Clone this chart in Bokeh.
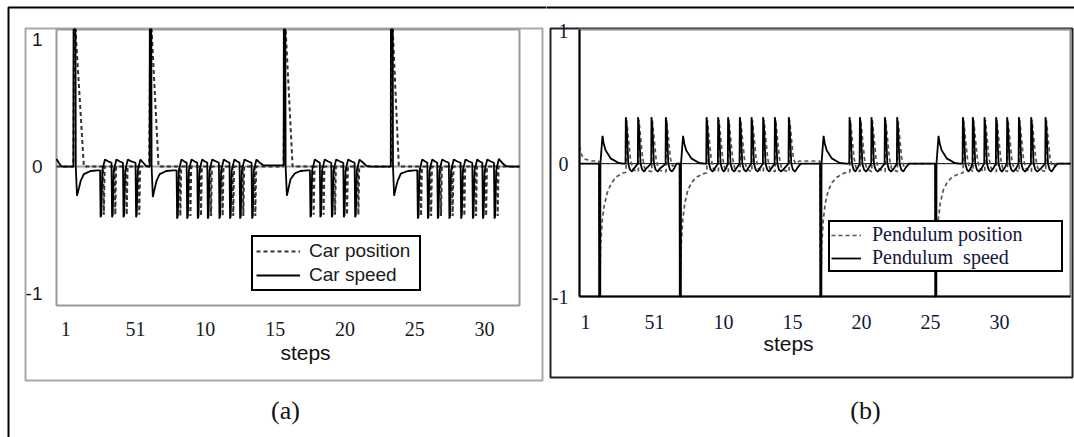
from bokeh.plotting import figure
from bokeh.layouts import row
from bokeh.models import Range1d, FixedTicker, Legend, LegendItem, BoxAnnotation, Label
from bokeh.embed import file_html
from bokeh.resources import INLINE

# ---------------- data (steps, value) ----------------
# (a) car speed (solid)
car_speed = [
    (-0.66, 0.06), (-0.5, 0.03), (-0.3, 0.0), (0.5, 0.0),
    (0.55, 0.0), (0.56, 1.079), (0.70, 1.079), (0.72, 0.0), (0.81, -0.23), (0.95, -0.17), (1.08, -0.11), (1.30, -0.06), (1.78, -0.035), (2.28, -0.03),
    (2.46, -0.03), (2.50, -0.40), (2.55, -0.38), (2.62, -0.03), (2.81, 0.055), (3.06, 0.04),
    (3.28, 0.03), (3.32, -0.40), (3.37, -0.38), (3.44, -0.03), (3.63, 0.055), (3.88, 0.04),
    (4.10, 0.03), (4.14, -0.40), (4.19, -0.38), (4.26, -0.03), (4.45, 0.055), (4.70, 0.04),
    (5.00, 0.03), (5.04, -0.40), (5.09, -0.38), (5.16, -0.03), (5.35, 0.055), (5.55, 0.03), (5.75, 0.005), (5.98, 0.0),
    (6.01, 0.0), (6.02, 1.079), (6.13, 1.079), (6.15, 0.0), (6.24, -0.24), (6.38, -0.17), (6.51, -0.11), (6.73, -0.06), (7.2, -0.035), (7.7, -0.03),
    (7.94, -0.03), (7.98, -0.41), (8.03, -0.39), (8.10, -0.03), (8.29, 0.055), (8.50, 0.04),
    (8.66, 0.03), (8.70, -0.41), (8.75, -0.39), (8.82, -0.03), (9.01, 0.055), (9.24, 0.04),
    (9.42, 0.03), (9.46, -0.41), (9.51, -0.39), (9.58, -0.03), (9.77, 0.055), (9.98, 0.04),
    (10.14, 0.03), (10.18, -0.41), (10.23, -0.39), (10.30, -0.03), (10.49, 0.055), (10.78, 0.04),
    (10.97, 0.03), (11.01, -0.41), (11.06, -0.39), (11.13, -0.03), (11.32, 0.055), (11.55, 0.04),
    (11.73, 0.03), (11.77, -0.41), (11.82, -0.39), (11.89, -0.03), (12.08, 0.055), (12.29, 0.04),
    (12.45, 0.03), (12.49, -0.41), (12.54, -0.39), (12.61, -0.03), (12.80, 0.055), (13.10, 0.04),
    (13.31, 0.03), (13.35, -0.41), (13.40, -0.39), (13.47, -0.03), (13.66, 0.055), (13.90, 0.03), (14.15, 0.01), (14.45, 0.01), (15.60, 0.01),
    (15.61, 0.01), (15.62, 1.079), (15.73, 1.079), (15.75, 0.0), (15.84, -0.23), (15.98, -0.16), (16.10, -0.10), (16.4, -0.055), (16.8, -0.035), (17.3, -0.03),
    (17.49, -0.03), (17.53, -0.40), (17.58, -0.38), (17.65, -0.03), (17.84, 0.055), (18.05, 0.04),
    (18.20, 0.03), (18.24, -0.40), (18.29, -0.38), (18.36, -0.03), (18.55, 0.055), (18.80, 0.04),
    (19.02, 0.03), (19.06, -0.40), (19.11, -0.38), (19.18, -0.03), (19.37, 0.055), (19.65, 0.04),
    (19.88, 0.03), (19.92, -0.40), (19.97, -0.38), (20.04, -0.03), (20.23, 0.055), (20.48, 0.04),
    (20.69, 0.03), (20.73, -0.40), (20.78, -0.38), (20.85, -0.03), (21.04, 0.055), (21.30, 0.03), (21.55, 0.005), (21.9, 0.0),
    (23.28, 0.0), (23.29, 1.079), (23.42, 1.079), (23.44, 0.0), (23.52, -0.23), (23.66, -0.16), (23.78, -0.11), (24.0, -0.055), (24.5, -0.035), (25.0, -0.03),
    (25.18, -0.03), (25.22, -0.41), (25.27, -0.39), (25.34, -0.03), (25.53, 0.055), (25.75, 0.04),
    (25.90, 0.03), (25.94, -0.41), (25.99, -0.39), (26.06, -0.03), (26.25, 0.055), (26.46, 0.04),
    (26.61, 0.03), (26.65, -0.41), (26.70, -0.39), (26.77, -0.03), (26.96, 0.055), (27.22, 0.04),
    (27.44, 0.03), (27.48, -0.41), (27.53, -0.39), (27.60, -0.03), (27.79, 0.055), (28.05, 0.04),
    (28.28, 0.03), (28.32, -0.41), (28.37, -0.39), (28.44, -0.03), (28.63, 0.055), (28.90, 0.04),
    (29.12, 0.03), (29.16, -0.41), (29.21, -0.39), (29.28, -0.03), (29.47, 0.055), (29.65, 0.04),
    (29.84, 0.03), (29.88, -0.41), (29.93, -0.39), (30.00, -0.03), (30.19, 0.055), (30.45, 0.04),
    (30.67, 0.03), (30.71, -0.41), (30.76, -0.39), (30.83, -0.03), (31.02, 0.06), (31.25, 0.03), (31.5, 0.005), (31.8, 0.0), (32.5, 0.0),
]

# (a) car position (dashed)
car_position = [
    (-0.66, 0.0), (0.55, 0.0), (0.60, 1.079), (0.70, 1.079), (1.30, 0.0),
    (2.68, 0.0), (2.73, -0.38), (2.79, 0.0), (3.50, 0.0), (3.55, -0.38), (3.61, 0.0),
    (4.32, 0.0), (4.37, -0.38), (4.43, 0.0), (5.22, 0.0), (5.27, -0.38), (5.33, 0.0),
    (5.98, 0.0), (6.05, 1.079), (6.15, 1.079), (6.65, 0.0),
    (8.16, 0.0), (8.21, -0.39), (8.27, 0.0), (8.88, 0.0), (8.93, -0.39), (8.99, 0.0),
    (9.64, 0.0), (9.69, -0.39), (9.75, 0.0), (10.36, 0.0), (10.41, -0.39), (10.47, 0.0),
    (11.19, 0.0), (11.24, -0.39), (11.30, 0.0), (11.95, 0.0), (12.00, -0.39), (12.06, 0.0),
    (12.67, 0.0), (12.72, -0.39), (12.78, 0.0), (13.53, 0.0), (13.58, -0.39), (13.64, 0.0),
    (15.60, 0.0), (15.68, 1.079), (15.75, 1.079), (16.25, 0.0),
    (17.71, 0.0), (17.76, -0.38), (17.82, 0.0), (18.42, 0.0), (18.47, -0.38), (18.53, 0.0),
    (19.24, 0.0), (19.29, -0.38), (19.35, 0.0), (20.10, 0.0), (20.15, -0.38), (20.21, 0.0),
    (20.91, 0.0), (20.96, -0.38), (21.02, 0.0),
    (23.30, 0.0), (23.36, 1.079), (23.42, 1.079), (23.86, 0.0),
    (25.40, 0.0), (25.45, -0.39), (25.51, 0.0), (26.12, 0.0), (26.17, -0.39), (26.23, 0.0),
    (26.83, 0.0), (26.88, -0.39), (26.94, 0.0), (27.66, 0.0), (27.71, -0.39), (27.77, 0.0),
    (28.50, 0.0), (28.55, -0.39), (28.61, 0.0), (29.34, 0.0), (29.39, -0.39), (29.45, 0.0),
    (30.06, 0.0), (30.11, -0.39), (30.17, 0.0), (30.89, 0.0), (30.94, -0.39), (31.00, 0.0),
    (32.5, 0.0),
]

# (b) pendulum speed (solid)
pendulum_speed = [
    (-0.435, 0.0), (0.95, 0.0),
    (0.98, 0.0), (0.99, -1.0), (1.07, -1.0), (1.08, 0.0), (1.23, 0.21), (1.32, 0.15), (1.46, 0.10), (1.82, 0.04), (2.4, 0.005), (2.75, 0.0),
    (2.90, 0.0), (2.92, 0.35), (2.98, 0.28), (3.10, 0.0), (3.22, -0.045), (3.37, -0.06), (3.52, -0.035),
    (3.79, 0.0), (3.81, 0.35), (3.87, 0.28), (3.99, 0.0), (4.11, -0.045), (4.26, -0.06), (4.41, -0.035),
    (4.76, 0.0), (4.78, 0.35), (4.84, 0.28), (4.96, 0.0), (5.08, -0.045), (5.23, -0.06), (5.40, -0.035), (5.6, -0.02),
    (5.80, 0.0), (5.82, 0.35), (5.88, 0.28), (6.00, 0.0), (6.12, -0.045), (6.27, -0.06), (6.45, -0.03), (6.6, 0.0),
    (6.82, 0.0), (6.83, -1.0), (6.91, -1.0), (6.92, 0.0), (7.07, 0.21), (7.16, 0.15), (7.30, 0.10), (7.66, 0.04), (8.24, 0.005), (8.6, 0.0),
    (8.75, 0.0), (8.77, 0.35), (8.83, 0.28), (8.95, 0.0), (9.07, -0.045), (9.22, -0.06), (9.37, -0.035),
    (9.59, 0.0), (9.61, 0.35), (9.67, 0.28), (9.79, 0.0), (9.91, -0.045), (10.03, -0.06), (10.18, -0.035),
    (10.31, 0.0), (10.33, 0.35), (10.39, 0.28), (10.51, 0.0), (10.63, -0.045), (10.78, -0.06), (10.93, -0.035),
    (11.16, 0.0), (11.18, 0.35), (11.24, 0.28), (11.36, 0.0), (11.48, -0.045), (11.63, -0.06), (11.78, -0.035),
    (12.01, 0.0), (12.03, 0.35), (12.09, 0.28), (12.21, 0.0), (12.33, -0.045), (12.48, -0.06), (12.63, -0.035),
    (12.85, 0.0), (12.87, 0.35), (12.93, 0.28), (13.05, 0.0), (13.17, -0.045), (13.32, -0.06), (13.47, -0.035),
    (13.70, 0.0), (13.72, 0.35), (13.78, 0.28), (13.90, 0.0), (14.02, -0.045), (14.17, -0.06), (14.40, -0.035),
    (14.71, 0.0), (14.73, 0.35), (14.79, 0.28), (14.91, 0.0), (15.03, -0.045), (15.18, -0.06), (15.36, -0.03), (15.6, 0.0),
    (17.00, 0.0), (17.01, -1.0), (17.09, -1.0), (17.10, 0.0), (17.25, 0.21), (17.34, 0.15), (17.48, 0.10), (17.84, 0.04), (18.42, 0.005), (18.9, 0.0),
    (19.11, 0.0), (19.13, 0.35), (19.19, 0.28), (19.31, 0.0), (19.43, -0.045), (19.55, -0.06), (19.70, -0.035),
    (19.86, 0.0), (19.88, 0.35), (19.94, 0.28), (20.06, 0.0), (20.18, -0.045), (20.33, -0.06), (20.50, -0.035),
    (20.70, 0.0), (20.72, 0.35), (20.78, 0.28), (20.90, 0.0), (21.02, -0.045), (21.17, -0.06), (21.40, -0.035),
    (21.67, 0.0), (21.69, 0.35), (21.75, 0.28), (21.87, 0.0), (21.99, -0.045), (22.14, -0.06), (22.35, -0.035),
    (22.56, 0.0), (22.58, 0.35), (22.64, 0.28), (22.76, 0.0), (22.88, -0.045), (23.03, -0.06), (23.2, -0.03), (23.45, 0.0),
    (25.33, 0.0), (25.34, -1.0), (25.42, -1.0), (25.43, 0.0), (25.58, 0.21), (25.67, 0.15), (25.81, 0.10), (26.17, 0.04), (26.75, 0.005), (27.1, 0.0),
    (27.32, 0.0), (27.34, 0.35), (27.40, 0.28), (27.52, 0.0), (27.64, -0.045), (27.76, -0.06), (27.90, -0.035),
    (28.04, 0.0), (28.06, 0.35), (28.12, 0.28), (28.24, 0.0), (28.36, -0.045), (28.51, -0.06), (28.70, -0.035),
    (28.89, 0.0), (28.91, 0.35), (28.97, 0.28), (29.09, 0.0), (29.21, -0.045), (29.36, -0.06), (29.55, -0.035),
    (29.73, 0.0), (29.75, 0.35), (29.81, 0.28), (29.93, 0.0), (30.05, -0.045), (30.18, -0.06), (30.35, -0.035),
    (30.53, 0.0), (30.55, 0.35), (30.61, 0.28), (30.73, 0.0), (30.85, -0.045), (31.00, -0.06), (31.20, -0.035),
    (31.38, 0.0), (31.40, 0.35), (31.46, 0.28), (31.58, 0.0), (31.70, -0.045), (31.85, -0.06), (32.05, -0.035),
    (32.27, 0.0), (32.29, 0.35), (32.35, 0.28), (32.47, 0.0), (32.59, -0.045), (32.74, -0.06), (33.00, -0.035),
    (33.31, 0.0), (33.33, 0.35), (33.39, 0.28), (33.51, 0.0), (33.63, -0.045), (33.78, -0.06), (33.95, -0.03), (34.2, 0.0), (35.14, 0.0),
]

# (b) pendulum position (dashed)
pendulum_position = [
    (-0.435, 0.13), (-0.3, 0.07), (-0.1, 0.035), (0.5, 0.02), (0.97, 0.02),
    (1.02, -1.0), (1.10, -0.6), (1.21, -0.43), (1.35, -0.32), (1.57, -0.22), (1.86, -0.15), (2.22, -0.10), (2.72, -0.07), (2.92, -0.065),
    (2.94, -0.06), (2.98, 0.33), (3.10, 0.2), (3.25, 0.04), (3.40, -0.035), (3.55, -0.05),
    (3.83, -0.06), (3.87, 0.33), (3.99, 0.2), (4.14, 0.04), (4.29, -0.035), (4.44, -0.05),
    (4.80, -0.06), (4.84, 0.33), (4.96, 0.2), (5.11, 0.04), (5.26, -0.035), (5.41, -0.05),
    (5.84, -0.06), (5.88, 0.33), (6.00, 0.2), (6.15, 0.04), (6.30, -0.02), (6.5, 0.0), (6.82, 0.0),
    (6.86, -1.0), (6.94, -0.6), (7.05, -0.42), (7.19, -0.30), (7.41, -0.2), (7.70, -0.14), (8.06, -0.10), (8.56, -0.075), (8.77, -0.07),
    (8.79, -0.06), (8.83, 0.33), (8.95, 0.2), (9.10, 0.04), (9.25, -0.035), (9.40, -0.05),
    (9.63, -0.06), (9.67, 0.33), (9.79, 0.2), (9.94, 0.04), (10.09, -0.035), (10.24, -0.05),
    (10.35, -0.06), (10.39, 0.33), (10.51, 0.2), (10.66, 0.04), (10.81, -0.035), (10.96, -0.05),
    (11.20, -0.06), (11.24, 0.33), (11.36, 0.2), (11.51, 0.04), (11.66, -0.035), (11.81, -0.05),
    (12.05, -0.06), (12.09, 0.33), (12.21, 0.2), (12.36, 0.04), (12.51, -0.035), (12.66, -0.05),
    (12.89, -0.06), (12.93, 0.33), (13.05, 0.2), (13.20, 0.04), (13.35, -0.035), (13.50, -0.05),
    (13.74, -0.06), (13.78, 0.33), (13.90, 0.2), (14.05, 0.04), (14.20, -0.035), (14.40, -0.05),
    (14.75, -0.06), (14.79, 0.33), (14.91, 0.2), (15.06, 0.04), (15.21, 0.0), (15.5, 0.02), (16.98, 0.02),
    (17.04, -1.0), (17.12, -0.6), (17.23, -0.42), (17.37, -0.30), (17.59, -0.2), (17.88, -0.14), (18.24, -0.10), (18.74, -0.07), (19.13, -0.065),
    (19.15, -0.06), (19.19, 0.33), (19.31, 0.2), (19.46, 0.04), (19.61, -0.035), (19.76, -0.05),
    (19.90, -0.06), (19.94, 0.33), (20.06, 0.2), (20.21, 0.04), (20.36, -0.035), (20.55, -0.05),
    (20.74, -0.06), (20.78, 0.33), (20.90, 0.2), (21.05, 0.04), (21.20, -0.035), (21.45, -0.05),
    (21.71, -0.06), (21.75, 0.33), (21.87, 0.2), (22.02, 0.04), (22.17, -0.035), (22.40, -0.05),
    (22.60, -0.06), (22.64, 0.33), (22.76, 0.2), (22.91, 0.04), (23.06, -0.02), (23.3, 0.0), (25.33, 0.0),
    (25.37, -1.0), (25.45, -0.6), (25.56, -0.42), (25.70, -0.30), (25.92, -0.2), (26.21, -0.14), (26.57, -0.10), (27.07, -0.075), (27.34, -0.07),
    (27.36, -0.06), (27.40, 0.33), (27.52, 0.2), (27.67, 0.04), (27.82, -0.035), (27.97, -0.05),
    (28.08, -0.06), (28.12, 0.33), (28.24, 0.2), (28.39, 0.04), (28.54, -0.035), (28.74, -0.05),
    (28.93, -0.06), (28.97, 0.33), (29.09, 0.2), (29.24, 0.04), (29.39, -0.035), (29.58, -0.05),
    (29.77, -0.06), (29.81, 0.33), (29.93, 0.2), (30.08, 0.04), (30.23, -0.035), (30.38, -0.05),
    (30.57, -0.06), (30.61, 0.33), (30.73, 0.2), (30.88, 0.04), (31.03, -0.035), (31.23, -0.05),
    (31.42, -0.06), (31.46, 0.33), (31.58, 0.2), (31.73, 0.04), (31.88, -0.035), (32.08, -0.05),
    (32.31, -0.06), (32.35, 0.33), (32.47, 0.2), (32.62, 0.04), (32.77, -0.035), (33.05, -0.05),
    (33.35, -0.06), (33.39, 0.33), (33.51, 0.2), (33.66, 0.04), (33.81, -0.02), (34.1, 0.0), (35.14, 0.0),
]

x_tick_steps = [0, 5, 10, 15, 20, 25, 30]
x_tick_labels = ["1", "51", "10", "15", "20", "25", "30"]
y_tick_values = [-1, 0, 1]
y_tick_labels = ["-1", "0", "1"]

# axis limits of the two plots (steps, value)
A_X = (-0.66, 32.5)
A_Y = (-1.094, 1.079)
B_X = (-0.435, 35.14)
B_Y = (-1.0, 1.01)

H = 437


def xy(pairs):
    return [p[0] for p in pairs], [p[1] for p in pairs]


class Panel:
    """maps page pixels of this figure onto its data space (for layout decorations)"""

    def __init__(self, width, box, xlim, ylim):
        self.left, self.right, self.top, self.bottom = box
        self.x0, self.x1 = xlim
        self.y0, self.y1 = ylim
        self.kx = (self.x1 - self.x0) / (self.right - self.left)
        self.ky = (self.y1 - self.y0) / (self.bottom - self.top)
        self.width = width

    def x(self, px):
        return self.x0 + (px - self.left) * self.kx

    def y(self, py):
        return self.y1 - (py - self.top) * self.ky

    def fig(self):
        p = figure(width=self.width, height=H, output_backend="svg", toolbar_location=None, title=None,
                   x_range=Range1d(self.x(0), self.x(self.width)), y_range=Range1d(self.y(H), self.y(0)),
                   min_border=0, min_border_left=0, min_border_right=0, min_border_top=0, min_border_bottom=0,
                   background_fill_color="white", border_fill_color="white", outline_line_color=None)
        p.grid.visible = False
        return p

    def box(self, p, l, r, t, b, color, width=2):
        p.add_layout(BoxAnnotation(left=self.x(l), right=self.x(r), top=self.y(t), bottom=self.y(b),
                                   fill_color=None, fill_alpha=0, line_color=color, line_alpha=1,
                                   line_width=width, level="underlay"))

    def text(self, p, px, py, s, font, size):
        p.add_layout(Label(x=self.x(px), y=self.y(py), text=s, text_font=font, text_font_size=size,
                           text_color="#111111", text_align="center", text_baseline="middle"))


def style_axes(p, xfix, yfix, xfont, yfont, size_x, size_y, xstand, ystand, color):
    p.xaxis.ticker = FixedTicker(ticks=x_tick_steps)
    p.xaxis.major_label_overrides = {t: l for t, l in zip(x_tick_steps, x_tick_labels)}
    p.yaxis.ticker = FixedTicker(ticks=y_tick_values)
    p.yaxis.major_label_overrides = {t: l for t, l in zip(y_tick_values, y_tick_labels)}
    p.xaxis.fixed_location = xfix
    p.yaxis.fixed_location = yfix
    for ax, f, s, st in ((p.xaxis, xfont, size_x, xstand), (p.yaxis, yfont, size_y, ystand)):
        ax.major_tick_line_color = None
        ax.minor_tick_line_color = None
        ax.major_label_text_font = f
        ax.major_label_text_font_size = s
        ax.major_label_text_color = color
        ax.major_label_standoff = st


# ---------------- panel (a) ----------------
A = Panel(546, (56, 519, 29, 305), A_X, A_Y)
pa = A.fig()
style_axes(pa, A_Y[0], A_X[0], "Liberation Serif", "Liberation Sans", "20px", "19px", 10, 8, "#1a1a1a")
pa.xaxis.axis_line_color = None
pa.yaxis.axis_line_color = None

A.box(pa, 8, 900, 7, 900, "black")            # page frame (top / left)
A.box(pa, 25, 542, 28, 380, "#a8a8a8")        # panel box
A.box(pa, 56, 519, 29, 305, "#9a9a9a")        # plot frame
pa.segment(x0=[A_X[0]], y0=[0], x1=[A_X[1]], y1=[0], line_color="#a0a0a0", line_width=2)

cx, cy = xy(car_position)
r_cpos = pa.line(cx, cy, line_color="#333333", line_width=2, line_dash="4 3")
sx, sy = xy(car_speed)
r_cspd = pa.line(sx, sy, line_color="black", line_width=1.8)

pa.add_layout(Legend(items=[LegendItem(label="Car position", renderers=[r_cpos]),
                            LegendItem(label="Car speed", renderers=[r_cspd])],
                     location=(251, H - 291), margin=0, padding=3, spacing=2,
                     glyph_width=44, glyph_height=20, label_height=20, label_standoff=9, label_width=107,
                     label_text_font="Liberation Sans", label_text_font_size="19px",
                     label_text_color="#1a1a1a",
                     border_line_color="black", border_line_width=2, border_line_alpha=1,
                     background_fill_color="white", background_fill_alpha=1))

A.text(pa, 305, 352, "steps", "Liberation Sans", "21px")
A.text(pa, 285, 410, "(a)", "Liberation Serif", "26px")

# ---------------- panel (b) ----------------
B = Panel(528, (33, 524, 29, 296), B_X, B_Y)
pb = B.fig()
style_axes(pb, B_Y[0], B_X[0], "Liberation Serif", "Liberation Serif", "20px", "20px", 12, 5, "#15153a")
pb.xaxis.bounds = B_X
pb.yaxis.bounds = B_Y
for ax in (pb.xaxis, pb.yaxis):
    ax.axis_line_color = "black"
    ax.axis_line_width = 2

B.box(pb, -20, 900, 7, 900, "black")          # page frame (top)
B.box(pb, 4, 526, 28, 377, "#222222")         # panel box
B.box(pb, 33, 524, 29, 296, "#8a8a8a")        # plot frame
pb.segment(x0=[B_X[0]], y0=[0], x1=[B_X[1]], y1=[0], line_color="black", line_width=1)

qx2, qy2 = xy(pendulum_position)
r_ppos = pb.line(qx2, qy2, line_color="#555555", line_width=1.7, line_dash="4 3")
qx, qy = xy(pendulum_speed)
r_pspd = pb.line(qx, qy, line_color="black", line_width=1.8)

pb.add_layout(Legend(items=[LegendItem(label="Pendulum position", renderers=[r_ppos]),
                            LegendItem(label="Pendulum  speed", renderers=[r_pspd])],
                     location=(282, H - 272), margin=0, padding=1, spacing=0,
                     glyph_width=30, glyph_height=18, label_height=18, label_standoff=11, label_width=188,
                     label_text_font="Liberation Serif", label_text_font_size="20px",
                     label_text_color="#15153a",
                     border_line_color="black", border_line_width=2, border_line_alpha=1,
                     background_fill_color="white", background_fill_alpha=1))

B.text(pb, 242, 343, "steps", "Liberation Sans", "21px")
B.text(pb, 319, 410, "(b)", "Liberation Serif", "26px")

layout = row(pa, pb, spacing=0)
open("out.html", "w").write(file_html(layout, INLINE))
